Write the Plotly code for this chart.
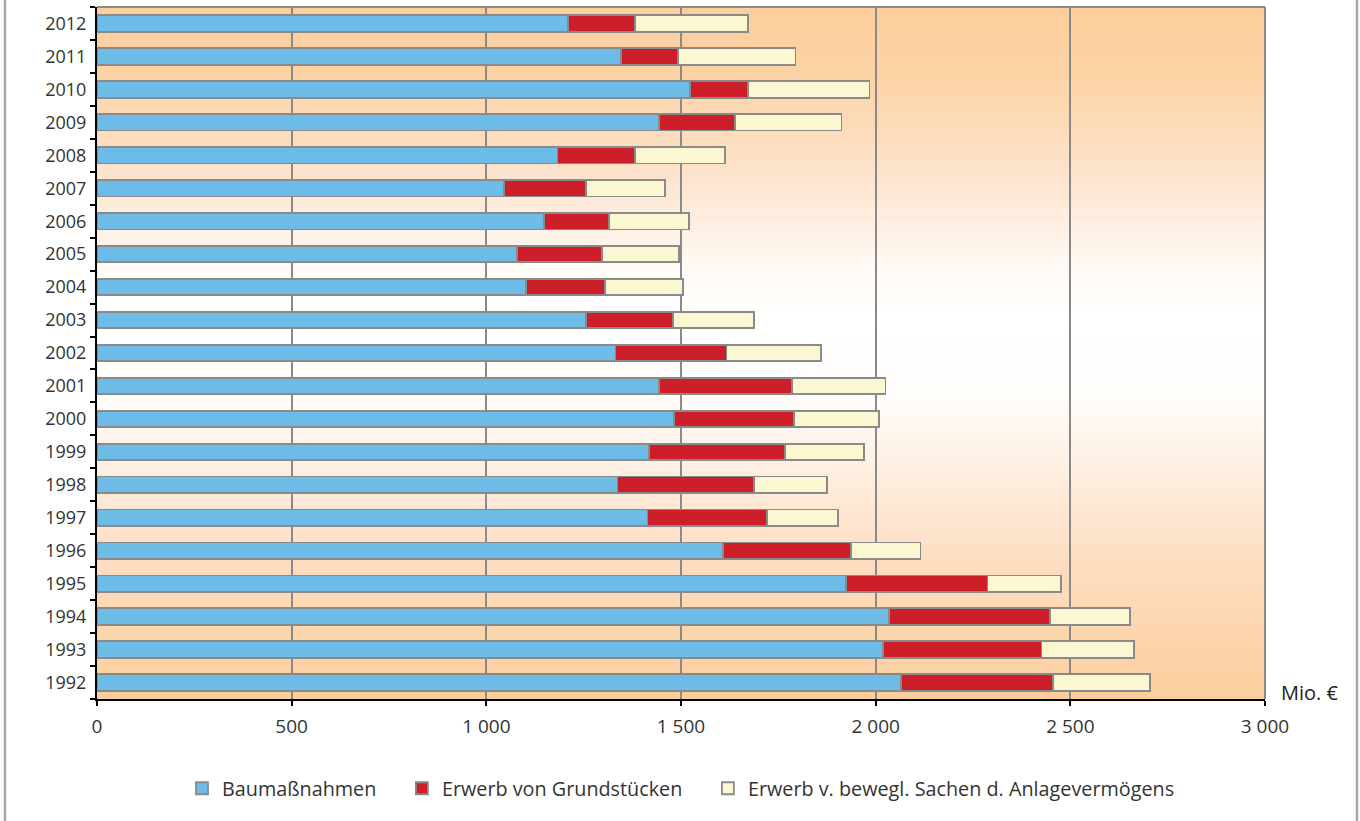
import plotly.graph_objects as go

# Investitionsausgaben nach Art, Mio. €
years = [str(y) for y in range(1992, 2013)]
baumassnahmen = [2065, 2018, 2034, 1924, 1608, 1414, 1337, 1417, 1482, 1443, 1332,
                 1257, 1101, 1079, 1148, 1046, 1183, 1444, 1523, 1345, 1210]
grundstuecke = [391, 408, 414, 363, 329, 307, 350, 350, 308, 342, 285,
                222, 203, 218, 167, 209, 198, 194, 150, 148, 171]
bewegl_sachen = [249, 238, 205, 189, 178, 182, 187, 202, 219, 240, 242,
                 208, 202, 198, 206, 204, 232, 274, 311, 301, 291]

series_names = ["Baumaßnahmen", "Erwerb von Grundstücken",
                "Erwerb v. bewegl. Sachen d. Anlagevermögens"]
series_colors = ["#6DBCE8", "#CC1F29", "#FBF7D1"]

x_tickvals = [0, 500, 1000, 1500, 2000, 2500, 3000]
x_ticktext = ["0", "500", "1 000", "1 500", "2 000", "2 500", "3 000"]

FONT = "Open Sans"
W, H = 1360, 821
ML, MR, MT, MB = 97, 95, 7, 122
PW = W - ML - MR
LEGEND_PAD = "\u00a0\u00a0\u00a0\u00a0"  # extra room between legend entries

fig = go.Figure()
for i, (name, vals, col) in enumerate(zip(series_names,
                                          [baumassnahmen, grundstuecke, bewegl_sachen],
                                          series_colors)):
    label = name + (LEGEND_PAD if i < len(series_names) - 1 else "")
    fig.add_trace(go.Bar(
        y=years, x=vals, name=label, orientation="h",
        marker=dict(color=col, line=dict(color="#8A8A8A", width=1.8)),
    ))

# vertical background gradient: orange at top and bottom, white in the middle
# stops: (fraction from top, rgb)
stops = [
    (0.00, (252, 206, 156)),
    (0.10, (252, 210, 165)),
    (0.26, (253, 230, 210)),
    (0.38, (255, 250, 246)),
    (0.45, (255, 255, 255)),
    (0.56, (255, 253, 251)),
    (0.66, (254, 240, 228)),
    (0.80, (253, 222, 194)),
    (1.00, (252, 206, 156)),
]


def color_at(f):
    for (f0, c0), (f1, c1) in zip(stops[:-1], stops[1:]):
        if f0 <= f <= f1:
            t = (f - f0) / (f1 - f0) if f1 > f0 else 0
            return "rgb(%d,%d,%d)" % tuple(round(a + (b - a) * t) for a, b in zip(c0, c1))
    return "rgb(%d,%d,%d)" % stops[-1][1]


shapes = []
N = 120
for i in range(N):
    f_mid = (i + 0.5) / N
    y_top = 1 - i / N
    y_bot = 1 - (i + 1) / N
    shapes.append(dict(type="rect", xref="paper", yref="paper",
                       x0=0, x1=1, y0=y_bot - 0.001, y1=y_top + 0.001,
                       fillcolor=color_at(f_mid), line=dict(width=0), layer="below"))

# plot frame: gray top and right edges
shapes.append(dict(type="line", xref="paper", yref="paper", x0=0, x1=1, y0=1, y1=1,
                   line=dict(color="#8A8A8A", width=2), layer="between"))
shapes.append(dict(type="line", xref="paper", yref="paper", x0=1, x1=1, y0=0, y1=1,
                   line=dict(color="#8A8A8A", width=2), layer="between"))

# outer frame lines at the figure edges
for px in (5, 1357):
    xp = (px - ML) / PW
    shapes.append(dict(type="line", xref="paper", yref="paper", x0=xp, x1=xp,
                       y0=-0.3, y1=1.1, line=dict(color="#A8A8A8", width=2.5)))

fig.update_layout(
    width=W, height=H,
    margin=dict(l=ML, r=MR, t=MT, b=MB, autoexpand=False),
    barmode="stack", bargap=0.5,
    paper_bgcolor="white", plot_bgcolor="rgba(0,0,0,0)",
    font=dict(family=FONT, size=18, color="#333333"),
    shapes=shapes,
    showlegend=True,
    legend=dict(orientation="h", x=0.5, xanchor="center", y=-0.101, yanchor="top",
                font=dict(family=FONT, size=19.8, color="#333333"),
                traceorder="normal", itemclick=False, bgcolor="rgba(0,0,0,0)"),
    annotations=[dict(text="Mio. €", xref="paper", yref="paper",
                      x=(1279 - ML) / PW, y=0, xanchor="left", yanchor="middle",
                      yshift=7, showarrow=False,
                      font=dict(family=FONT, size=20, color="#222222"))],
)

fig.update_xaxes(
    range=[0, 3000], tickvals=x_tickvals, ticktext=x_ticktext,
    showgrid=True, gridcolor="#8A8A8A", gridwidth=1.5, zeroline=False,
    showline=True, linecolor="black", linewidth=2,
    ticks="outside", ticklen=5, tickcolor="black", tickwidth=1.5,
    ticklabelstandoff=4,
    tickfont=dict(family=FONT, size=19, color="#333333"),
    fixedrange=True,
)
fig.update_yaxes(
    type="category", categoryorder="array", categoryarray=years,
    showgrid=False, zeroline=False,
    showline=True, linecolor="black", linewidth=2,
    ticks="outside", ticklen=5, tickcolor="black", tickwidth=1.5,
    tickson="boundaries", ticklabelstandoff=5,
    tickfont=dict(family=FONT, size=18, color="#333333"),
    fixedrange=True,
)

fig.write_html("out.html")
